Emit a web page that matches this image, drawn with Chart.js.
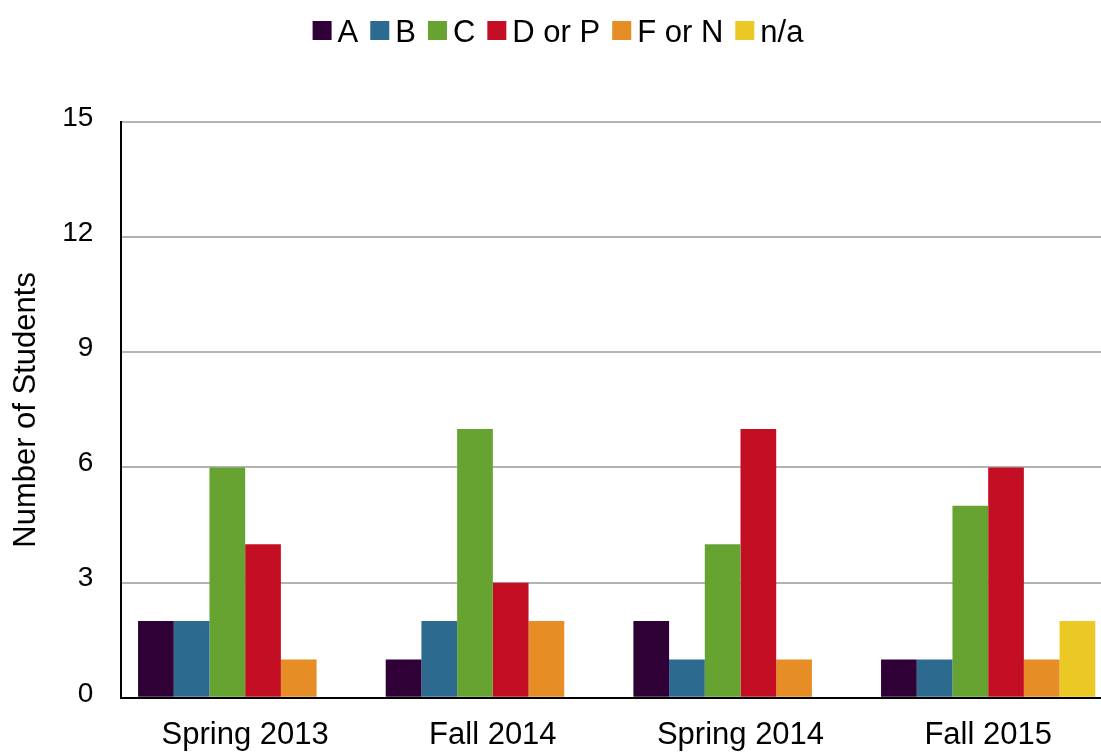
<!DOCTYPE html>
<html>
<head>
<meta charset="utf-8">
<script src="https://cdn.jsdelivr.net/npm/chart.js@4/dist/chart.umd.min.js"></script>
<style>
  html, body { margin: 0; padding: 0; background: #fff; overflow: hidden; }
  #wrap { width: 1112px; height: 755px; position: relative; }
</style>
</head>
<body>
<div id="wrap"><canvas id="gradeChart"></canvas></div>
<script>
// terms on the x axis
const terms = ['Spring 2013', 'Fall 2014', 'Spring 2014', 'Fall 2015'];
// grade series, one value per term
const gradeA = [2, 1, 2, 1];
const gradeB = [2, 2, 1, 1];
const gradeC = [6, 7, 4, 5];
const gradeD = [4, 3, 7, 6];
const gradeF = [1, 2, 1, 1];
const gradeNA = [0, 0, 0, 2];
const yTicks = [0, 3, 6, 9, 12, 15];

const series = [
    { label: 'A', data: gradeA, color: '#2e0036' },
    { label: 'B', data: gradeB, color: '#2c6a90' },
    { label: 'C', data: gradeC, color: '#67a330' },
    { label: 'D or P', data: gradeD, color: '#c30e24' },
    { label: 'F or N', data: gradeF, color: '#e68e25' },
    { label: 'n/a', data: gradeNA, color: '#ecc824' }
];

const FONT = '"Liberation Sans", Arial, Helvetica, sans-serif';

// legend drawn from the datasets, with a tight box-to-text gap
const topLegend = {
    id: 'topLegend',
    afterDraw(chart) {
        const c = chart.ctx;
        const box = 19, gap = 6, spacing = 12;
        c.save();
        c.font = '31px ' + FONT;
        const items = chart.data.datasets.map(ds => ({
            text: ds.label,
            color: ds.backgroundColor,
            w: c.measureText(ds.label).width
        }));
        const total = items.reduce((sum, it) => sum + box + gap + it.w, 0) + spacing * (items.length - 1);
        let x = 558 - total / 2;
        const cy = 30.5;
        c.textBaseline = 'alphabetic';
        c.textAlign = 'left';
        items.forEach(it => {
            c.fillStyle = it.color;
            c.fillRect(x, cy - box / 2, box, box);
            x += box + gap;
            c.fillStyle = '#000';
            c.fillText(it.text, x, cy + 11);
            x += it.w + spacing;
        });
        c.restore();
    }
};

Chart.defaults.font.family = FONT;
Chart.defaults.color = '#000';

const ctx = document.getElementById('gradeChart').getContext('2d');
new Chart(ctx, {
    type: 'bar',
    data: {
        labels: terms,
        datasets: series.map(s => ({
            label: s.label,
            data: s.data,
            backgroundColor: s.color,
            borderWidth: 0,
            categoryPercentage: 0.865,
            barPercentage: 1
        }))
    },
    options: {
        responsive: true,
        maintainAspectRatio: false,
        animation: false,
        layout: {
            padding: { top: 122, left: 8, right: 0, bottom: -10 }
        },
        plugins: {
            legend: { display: false },
            tooltip: { enabled: false }
        },
        scales: {
            x: {
                grid: { display: false },
                border: { display: true, color: '#000', width: 2 },
                ticks: {
                    font: { size: 31 },
                    padding: 11,
                    color: '#000'
                }
            },
            y: {
                min: 0,
                max: 15,
                afterBuildTicks(axis) {
                    axis.ticks = yTicks.map(v => ({ value: v }));
                },
                grid: {
                    color: '#b3b3b3',
                    lineWidth: 2,
                    drawTicks: false
                },
                border: { display: true, color: '#000', width: 2 },
                ticks: {
                    font: { size: 28 },
                    padding: 28,
                    labelOffset: -4,
                    color: '#000'
                },
                title: {
                    display: true,
                    text: 'Number of Students',
                    font: { size: 31 },
                    color: '#000',
                    padding: { top: 0, bottom: -11 }
                }
            }
        }
    },
    plugins: [topLegend]
});
</script>
</body>
</html>
